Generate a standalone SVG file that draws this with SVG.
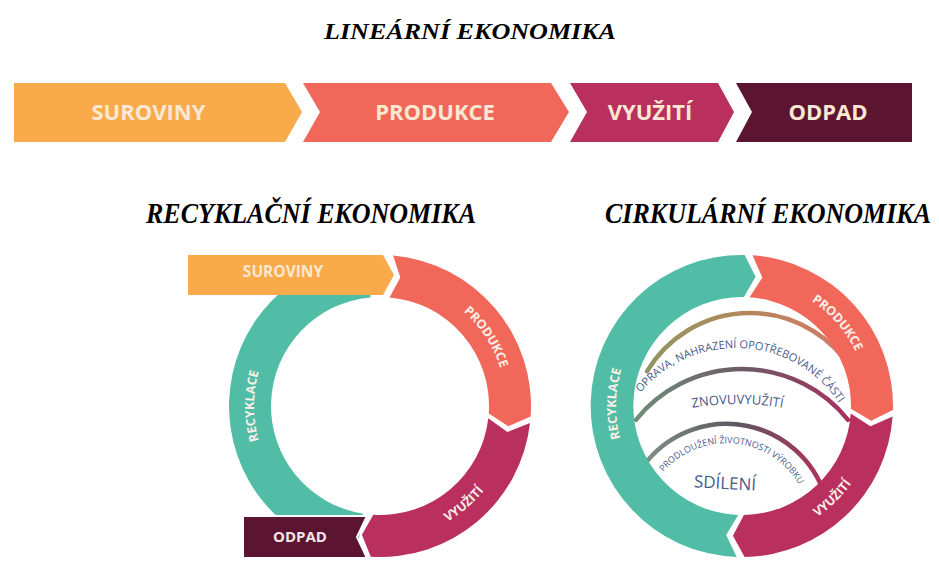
<svg xmlns="http://www.w3.org/2000/svg" width="939" height="572" viewBox="0 0 939 572">
<defs>
<style>
.title{font-family:"Liberation Serif","Times New Roman",serif;font-weight:bold;font-style:italic;fill:#000}
.bar{font-family:"Open Sans","Liberation Sans",sans-serif;font-weight:bold;fill:#fbe8d2;text-anchor:middle}
.ring{font-family:"Open Sans","Liberation Sans",sans-serif;font-weight:bold;font-size:12.5px;fill:#fbefe8}
.inner{font-family:"Open Sans","Liberation Sans",sans-serif;fill:#4a5a8c}
.orange{fill:#f9aa4b}.salmon{fill:#f1685a}.magenta{fill:#b9305f}.maroon{fill:#5b1530}.teal{fill:#52bda6}
.arc{fill:none;stroke-width:4.5;stroke-linecap:round}
</style>
<linearGradient id="g1" gradientUnits="userSpaceOnUse" x1="640" y1="0" x2="855" y2="0">
<stop offset="0" stop-color="#8f9662"/><stop offset="0.5" stop-color="#b3875c"/><stop offset="1" stop-color="#d9766a"/>
</linearGradient>
<linearGradient id="g2" gradientUnits="userSpaceOnUse" x1="636" y1="0" x2="850" y2="0">
<stop offset="0" stop-color="#6f8c78"/><stop offset="0.5" stop-color="#6d5a66"/><stop offset="1" stop-color="#a8305e"/>
</linearGradient>
<linearGradient id="g3" gradientUnits="userSpaceOnUse" x1="648" y1="0" x2="826" y2="0">
<stop offset="0" stop-color="#7d8f84"/><stop offset="0.5" stop-color="#5d5660"/><stop offset="1" stop-color="#b2305c"/>
</linearGradient>
<path id="pL_rec" d="M299.01,502.52 A126,126 0 0 1 299.01,309.48"/>
<path id="pL_pro" d="M395.36,280.94 A126,126 0 0 1 500.49,442.84"/>
<path id="pL_vyu" d="M357.88,538.16 A134,134 0 0 0 514.0,404.83"/>
<path id="pR_rec" d="M659.34,501.09 A126,126 0 0 1 662.71,308.08"/>
<path id="pR_pro" d="M739.80,280.02 A126,126 0 0 1 866.45,425.71"/>
<path id="pR_vyu" d="M728.92,539.36 A134,134 0 0 0 875.60,395.72"/>
<path id="pT1" d="M631.94,404.57 A124,124 0 0 1 846.44,415.60"/>
<path id="pT2" d="M680,410 Q737,398 795,410"/>
<path id="pT3" d="M658.04,478.66 A84,84 0 0 1 802.91,492.10"/>
</defs>
<rect width="939" height="572" fill="#ffffff"/>

<g id="titles">
<text class="title" x="470" y="39" font-size="24" text-anchor="middle" textLength="292" lengthAdjust="spacingAndGlyphs">LINEÁRNÍ EKONOMIKA</text>
<text class="title" transform="translate(311 223) scale(1 1.15)" x="0" y="0" font-size="25.5" text-anchor="middle" textLength="330" lengthAdjust="spacingAndGlyphs">RECYKLAČNÍ EKONOMIKA</text>
<text class="title" transform="translate(768 223) scale(1 1.15)" x="0" y="0" font-size="25.5" text-anchor="middle" textLength="326" lengthAdjust="spacingAndGlyphs">CIRKULÁRNÍ EKONOMIKA</text>
</g>

<g id="linear-suroviny">
<path class="orange" d="M14,83 L285,83 L302,112 L285,142 L14,142 Z"/>
<text class="bar" x="148.5" y="120" font-size="22">SUROVINY</text>
</g>
<g id="linear-produkce">
<path class="salmon" d="M303,83 L551,83 L569,112 L551,142 L303,142 L320,112 Z"/>
<text class="bar" x="435" y="120" font-size="22">PRODUKCE</text>
</g>
<g id="linear-vyuziti">
<path class="magenta" d="M570,83 L718,83 L734,112 L718,142 L570,142 L587,112 Z"/>
<text class="bar" x="650" y="120" font-size="22">VYUŽITÍ</text>
</g>
<g id="linear-odpad">
<path class="maroon" d="M736,83 L912,83 L912,142 L736,142 L752,112 Z"/>
<text class="bar" x="828" y="120" font-size="22">ODPAD</text>
</g>

<g id="recycle-recyklace">
<path class="teal" d="M356.38,555.14 A151,151 0 0 1 366.84,255.58 L370.50,297.42 A109,109 0 0 0 362.95,513.66 Z"/>
<text class="ring"><textPath href="#pL_rec" startOffset="50%" text-anchor="middle">RECYKLACE</textPath></text>
</g>
<g id="recycle-suroviny">
<path class="orange" d="M188,255 L383,255 L394,275 L383,295 L188,295 Z"/>
<text class="bar" x="283" y="277" font-size="15.5">SUROVINY</text>
</g>
<g id="recycle-produkce">
<path class="salmon" d="M393.16,255.58 A151,151 0 0 1 530.63,416.53 L508.40,426.34 L488.73,413.60 A109,109 0 0 0 389.50,297.42 L400.34,277.60 Z"/>
<text class="ring"><textPath href="#pL_pro" startOffset="50%" text-anchor="middle">PRODUKCE</textPath></text>
</g>
<g id="recycle-vyuziti">
<path class="magenta" d="M530.03,423.09 A151,151 0 0 1 370.78,556.72 L361.91,534.74 L373.35,514.80 A109,109 0 0 0 488.30,418.34 L507.39,431.92 Z"/>
<text class="ring"><textPath href="#pL_vyu" startOffset="50%" text-anchor="middle">VYUŽITÍ</textPath></text>
</g>
<g id="recycle-odpad">
<path class="maroon" d="M243,516 L367,516 L357,537 L367,558 L243,558 Z" stroke="#ffffff" stroke-width="2"/>
<text class="bar" x="300" y="542" font-size="15" style="fill:#f3e6ea">ODPAD</text>
</g>

<g id="circular-inner">
<path class="arc" stroke="url(#g1)" d="M647.14,371.2 A120,120 0 0 1 852.86,371.2"/>
<path class="arc" stroke="url(#g2)" d="M636,419.8 A136,136 0 0 1 848,419.8"/>
<path class="arc" stroke="url(#g3)" d="M648,460 A103.4,103.4 0 0 1 824.66,494.39"/>
<text class="inner" font-size="11"><textPath href="#pT1" startOffset="50%" text-anchor="middle">OPRAVA, NAHRAZENÍ OPOTŘEBOVANÉ ČÁSTI</textPath></text>
<text class="inner" font-size="13"><textPath href="#pT2" startOffset="50%" text-anchor="middle">ZNOVUVYUŽITÍ</textPath></text>
<text class="inner" font-size="9"><textPath href="#pT3" startOffset="50%" text-anchor="middle">PRODLOUŽENÍ ŽIVOTNOSTI VÝROBKU</textPath></text>
<text class="inner" x="725" y="489" font-size="17" text-anchor="middle" transform="rotate(3 725 484)">SDÍLENÍ</text>
</g>

<g id="circular-recyklace">
<path class="teal" d="M736.73,556.91 A151,151 0 0 1 744.64,255.02 L755.59,276.71 L743.90,297.02 A109,109 0 0 0 738.20,514.93 L726.16,535.03 Z"/>
<text class="ring"><textPath href="#pR_rec" startOffset="50%" text-anchor="middle">RECYKLACE</textPath></text>
</g>
<g id="circular-produkce">
<path class="salmon" d="M752.53,255.37 A151,151 0 0 1 892.95,409.95 L871.16,420.72 L850.96,408.85 A109,109 0 0 0 749.60,297.27 L762.34,277.60 Z"/>
<text class="ring"><textPath href="#pR_pro" startOffset="50%" text-anchor="middle">PRODUKCE</textPath></text>
</g>
<g id="circular-vyuziti">
<path class="magenta" d="M892.63,416.53 A151,151 0 0 1 744.64,556.98 L732.93,535.68 L743.90,514.98 A109,109 0 0 0 850.73,413.60 L870.40,426.34 Z"/>
<text class="ring"><textPath href="#pR_vyu" startOffset="50%" text-anchor="middle">VYUŽITÍ</textPath></text>
</g>

<g id="connectors"></g>
</svg>
